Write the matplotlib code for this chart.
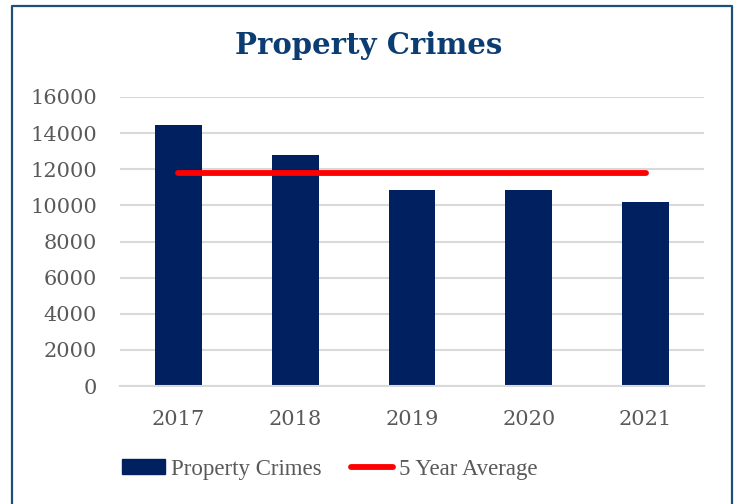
import matplotlib
matplotlib.use('Agg')
import matplotlib.pyplot as plt
from matplotlib.patches import Rectangle
from matplotlib.lines import Line2D

years = ['2017', '2018', '2019', '2020', '2021']
crimes = [14440, 12790, 10830, 10870, 10180]
avg_value = 11820
yticks = [0, 2000, 4000, 6000, 8000, 10000, 12000, 14000, 16000]

navy = '#002060'
red = '#FF0000'
grey_text = '#595959'
grid_col = '#D9D9D9'

plt.rcParams['font.family'] = ['DejaVu Serif']

fig = plt.figure(figsize=(7.38, 5.04), dpi=100)
ax = fig.add_axes([120 / 738, 1 - 386 / 504, 584 / 738, 289 / 504])

x = list(range(len(years)))
ax.bar(x, crimes, width=0.4, color=navy, zorder=2)
ax.plot([x[0], x[-1]], [avg_value, avg_value], color=red, lw=4.2,
        solid_capstyle='round', zorder=3)

ax.set_xlim(-0.5, len(years) - 0.5)
ax.set_ylim(0, 16000)
ax.set_yticks(yticks)
ax.set_yticklabels([str(t) for t in yticks])
ax.set_xticks(x)
ax.set_xticklabels(years)
ax.tick_params(length=0, labelsize=15, labelcolor=grey_text)
ax.tick_params(axis='x', pad=17)
ax.tick_params(axis='y', pad=16.5)
ax.yaxis.grid(True, color=grid_col, lw=1.5, zorder=0)
ax.set_axisbelow(True)
for s in ['top', 'right', 'left']:
    ax.spines[s].set_visible(False)
ax.spines['bottom'].set_color(grid_col)
ax.spines['bottom'].set_linewidth(1.5)

fig.text(0.5, 1 - 45 / 504, 'Property Crimes', ha='center', va='center',
         fontsize=21, fontweight='bold', color='#0B3C72')

handles = [Rectangle((0, 0), 1, 1, color=navy),
           Line2D([0], [0], color=red, lw=4.2, solid_capstyle='round')]
leg = fig.legend(handles, ['Property Crimes', '5 Year Average'],
                 loc='center', bbox_to_anchor=(330 / 738, 1 - 469 / 504), ncol=2,
                 frameon=False, prop={'family': 'Liberation Serif', 'size': 16.5},
                 labelcolor=grey_text, handlelength=1.85, handleheight=0.6,
                 handletextpad=0.25, columnspacing=1.3)

# outer frame (no bottom edge)
fig.add_artist(Line2D([12 / 738, 12 / 738, 732 / 738, 732 / 738],
                      [0, 1 - 6 / 504, 1 - 6 / 504, 0],
                      transform=fig.transFigure, color='#1F4E79', lw=1.6))

plt.savefig('out.png', dpi=100)
